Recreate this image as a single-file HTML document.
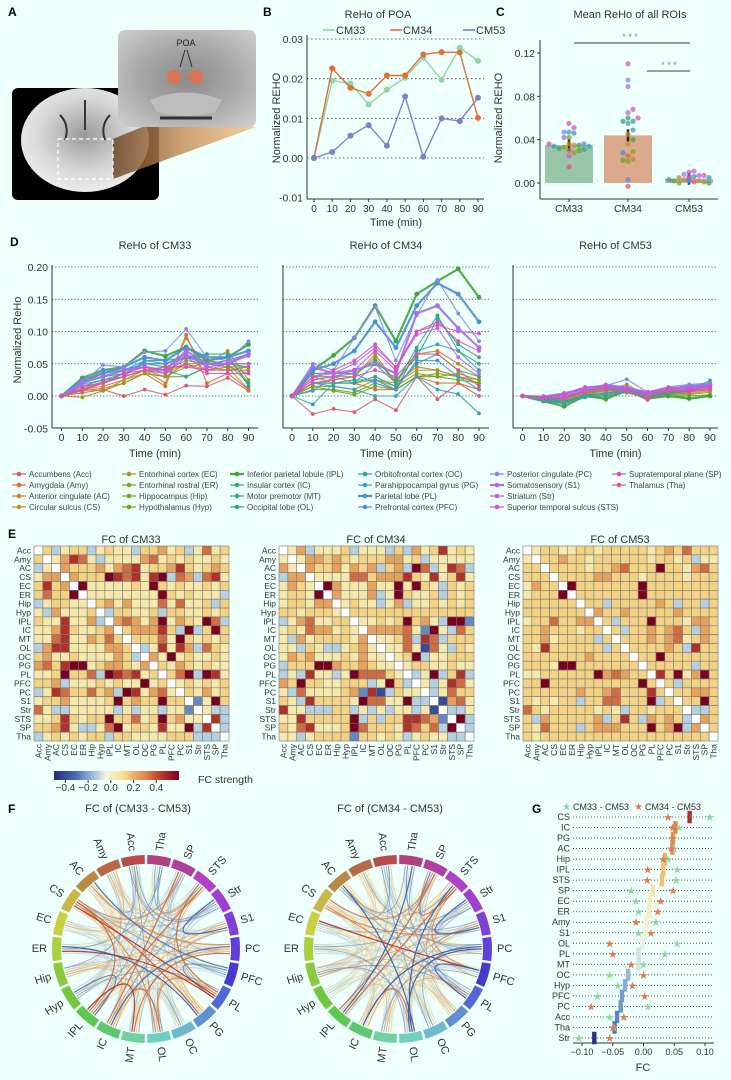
<!DOCTYPE html>
<html><head><meta charset="utf-8">
<style>
html,body{margin:0;padding:0;background:#eefffc;}
svg{display:block;font-family:"Liberation Sans",sans-serif;}
</style></head>
<body>
<svg id="fig" width="731" height="1080" viewBox="0 0 731 1080" xmlns="http://www.w3.org/2000/svg">
<rect width="731" height="1080" fill="#eefffc"/>
<defs>
<linearGradient id="cbar" x1="0" x2="1" y1="0" y2="0">
<stop offset="0" stop-color="#25297a"/><stop offset="0.18" stop-color="#4a6fb5"/><stop offset="0.33" stop-color="#a9c8e0"/><stop offset="0.42" stop-color="#f2f7e4"/><stop offset="0.55" stop-color="#f7e08e"/><stop offset="0.72" stop-color="#e08a4a"/><stop offset="0.88" stop-color="#b0302a"/><stop offset="1" stop-color="#7a0020"/>
</linearGradient>
<linearGradient id="cone" x1="0" x2="1" y1="0" y2="0">
<stop offset="0" stop-color="#6b4525"/><stop offset="0.5" stop-color="#c8925c"/><stop offset="1" stop-color="#f0c890"/>
</linearGradient>
<radialGradient id="brain" cx="0.5" cy="0.45" r="0.6"><stop offset="0" stop-color="#9a9a9a"/><stop offset="0.6" stop-color="#d8d8d8"/><stop offset="1" stop-color="#f0f0f0"/></radialGradient>
<radialGradient id="inset" cx="0.5" cy="0.5" r="0.7"><stop offset="0" stop-color="#8a8a8a"/><stop offset="0.5" stop-color="#a8a8a8"/><stop offset="1" stop-color="#cfcfcf"/></radialGradient>
</defs>
<g>
<text x="8" y="16" font-size="12" font-weight="bold">A</text>
<rect x="12" y="88" width="147" height="112" rx="6" fill="#000"/>
<ellipse cx="85" cy="140" rx="64" ry="52" fill="url(#brain)"/>
<path d="M85 100 L85 130 M60 115 Q70 125 65 140 M110 115 Q100 125 105 140" stroke="#333" stroke-width="2" fill="none"/>
<polygon points="113,139 159,120 256,127 113,179" fill="url(#cone)" opacity="0.85"/>
<rect x="58" y="139" width="55" height="40" fill="none" stroke="#fff" stroke-width="1.2" stroke-dasharray="4,3"/>
<rect x="118" y="30" width="138" height="97" rx="7" fill="url(#inset)"/>
<path d="M150 100 Q186 85 222 100 L215 112 Q186 120 157 112Z" fill="#bdbdbd"/>
<path d="M160 118 L212 118" stroke="#333" stroke-width="3"/>
<circle cx="174" cy="77" r="7" fill="#e07050" opacity="0.9"/>
<circle cx="196" cy="77" r="7" fill="#e07050" opacity="0.9"/>
<text x="186" y="46" font-size="9" text-anchor="middle" fill="#222">POA</text>
<path d="M185 50 L180 67 M187 50 L192 67" stroke="#222" stroke-width="0.9"/>
</g>
<g id="gB"></g>
<g id="gC"></g>
<g id="gD"></g>
<g id="gE"></g>
<g id="gF"></g>
<g id="gG"></g>
</svg>
<script>
const NS="http://www.w3.org/2000/svg";
const rois=["Acc","Amy","AC","CS","EC","ER","Hip","Hyp","IPL","IC","MT","OL","OC","PG","PL","PFC","PC","S1","Str","STS","SP","Tha"];
const roiNames=["Accumbens (Acc)","Amygdala (Amy)","Anterior cingulate (AC)","Circular sulcus (CS)","Entorhinal cortex (EC)","Entorhinal rostral (ER)","Hippocampus (Hip)","Hypothalamus (Hyp)","Inferior parietal lobule (IPL)","Insular cortex (IC)","Motor premotor (MT)","Occipital lobe (OL)","Orbitofrontal cortex (OC)","Parahippocampal gyrus (PG)","Parietal lobe (PL)","Prefrontal cortex (PFC)","Posterior cingulate (PC)","Somatosensory (S1)","Striatum (Str)","Superior temporal sulcus (STS)","Supratemporal plane (SP)","Thalamus (Tha)"];
const roiColors=["#e05a6a","#e0683a","#d0802a","#bf9030","#a99031","#95991f","#86a01f","#6aa320","#40a63b","#3aa66a","#3aa383","#3b9e8f","#3aa0a0","#3e9fb5","#4a8fd0","#5a8ae0","#8a86e8","#a070ee","#c35ee8","#d452d8","#dd50b8","#e05590"];
const times=[0,10,20,30,40,50,60,70,80,90];
const pCM33=[0,.0195,.0188,.0135,.0172,.0202,.0253,.0197,.0278,.0245];
const pCM34=[0,.0226,.0177,.0162,.0208,.0208,.0261,.0267,.0266,.0101];
const pCM53=[0,.0015,.0056,.0083,.0031,.0155,.0003,.0100,.0093,.0152];
const meanLabels=["CM33","CM34","CM53"];
const meanVals=[.035,.044,.004];
const dotsCM33=[.015,.03,.036,.035,.028,.033,.042,.03,.035,.032,.031,.046,.034,.034,.047,.036,.047,.042,.025,.051,.036,.055];
const dotsCM34=[-.003,.025,.045,.036,.022,.029,.02,.021,.04,.06,.057,.057,.055,.049,.028,.003,.095,.089,.065,.068,.06,.11];
const dotsCM53=[.004,.001,.003,.002,.005,.001,.0,.002,.0,.003,.004,.006,.005,.002,.003,.002,.008,.01,.011,.007,.007,.006];
const rehoCM33=[
[0,.005,.01,.0,.01,.002,.016,.015,.028,.008],[0,.008,.012,.02,.035,.015,.095,.02,.035,.01],[0,.01,.008,.025,.04,.02,.09,.04,.045,.01],[0,.01,.015,.025,.035,.03,.05,.04,.045,.035],
[0,.008,.02,.03,.04,.03,.045,.05,.07,.025],[0,-.002,.008,.02,.035,.03,.03,.045,.04,.04],[0,.015,.02,.03,.04,.035,.05,.05,.05,.02],[0,.02,.035,.04,.045,.04,.055,.05,.045,.045],
[0,.028,.04,.045,.07,.062,.076,.055,.06,.08],[0,.02,.03,.035,.05,.045,.06,.055,.05,.05],[0,.015,.025,.035,.045,.04,.03,.045,.05,.045],[0,.02,.03,.04,.05,.05,.06,.065,.065,.015],
[0,.018,.025,.03,.055,.055,.06,.06,.06,.02],[0,.02,.03,.04,.055,.05,.065,.05,.055,.065],[0,.025,.035,.045,.06,.055,.075,.06,.06,.07],[0,.02,.04,.04,.05,.05,.06,.05,.055,.065],
[0,.02,.048,.045,.068,.07,.104,.06,.055,.085],[0,.022,.03,.04,.045,.04,.07,.05,.05,.065],[0,.015,.02,.03,.04,.035,.065,.045,.05,.062],[0,.01,.02,.035,.045,.035,.06,.04,.05,.05],
[0,.01,.02,.035,.04,.04,.05,.035,.035,.035],[0,.012,.022,.03,.04,.045,.045,.04,.04,.045]];
const rehoCM34=[
[0,-.028,-.02,-.025,-.005,-.022,.03,-.005,.02,.0],[0,.02,.02,.02,.01,.01,.03,.02,.02,.01],[0,.025,.03,.03,.065,.02,.065,.07,.05,.03],[0,.03,.02,.02,.025,.02,.04,.04,.03,.025],
[0,.02,.025,.03,.06,.02,.045,.04,.03,.02],[0,.015,.015,.01,.025,.015,.035,.03,.035,.025],[0,.01,.01,.005,.02,.01,.03,.035,.03,.02],[0,.015,.008,.002,.015,.01,.03,.03,.025,.02],
[0,.04,.063,.09,.14,.085,.158,.178,.197,.153],[0,.035,.035,.035,.055,.025,.06,.12,.08,.06],[0,.03,.03,.02,.05,.02,.075,.125,.07,.05],[0,.02,.02,.02,.03,.015,.05,.065,.04,.03],
[0,-.013,.02,.025,.025,.01,.07,.08,.07,.04],[0,.02,.015,.01,.0,.0,.03,.01,.003,-.027],[0,.04,.05,.07,.115,.075,.14,.175,.158,.115],[0,.008,.03,.035,.02,.01,.055,.055,.03,.01],
[0,.05,.04,.09,.138,.055,.125,.18,.128,.085],[0,.045,.035,.04,.05,.035,.128,.14,.105,.075],[0,.03,.035,.05,.075,.045,.095,.105,.06,.035],[0,.025,.03,.04,.07,.04,.1,.11,.1,.097],
[0,.03,.04,.055,.08,.045,.1,.115,.085,.07],[0,.02,.025,.03,.04,.03,.065,.065,.04,.015]];
const rehoCM53=[
[0,-.002,-.004,.006,.01,.007,-.005,.01,.006,.012],[0,-.001,.0,.008,.012,.008,-.006,.008,.01,.015],[0,-.004,-.006,.004,.01,.006,.0,.006,.008,.01],[0,-.003,-.002,.006,.012,.01,.002,.008,.01,.014],
[0,-.005,-.008,.002,.008,.006,.0,.004,.004,.008],[0,-.006,-.01,.0,.006,.005,-.002,.002,.002,.006],[0,-.004,-.008,.004,.008,.018,.0,.004,-.004,.0],[0,-.006,-.012,.002,-.006,.01,-.002,.0,.0,.002],
[0,-.008,-.016,.0,-.004,.008,-.004,.0,-.004,.0],[0,-.006,-.01,.002,.004,.01,.0,.006,.008,.02],[0,-.008,-.012,-.002,.0,.006,-.004,.004,.006,.018],[0,-.006,-.008,.0,.002,.006,-.002,.004,.008,.016],
[0,-.007,-.01,-.002,.004,.008,.0,.008,.01,.024],[0,-.006,-.008,.0,.004,.006,.0,.006,.012,.02],[0,-.004,-.004,.008,.014,.012,.004,.01,.016,.016],[0,-.002,.0,.008,.012,.01,.004,.01,.014,.016],
[0,.0,.002,.01,.016,.026,.006,.014,.018,.02],[0,-.001,.004,.012,.016,.012,.006,.012,.014,.018],[0,-.002,.002,.012,.018,.014,.006,.014,.012,.016],[0,-.003,.004,.014,.016,.012,.004,.012,.01,.014],
[0,-.004,-.002,.008,.012,.008,.0,.01,.008,.012],[0,-.003,-.004,.006,.01,.008,-.006,.008,.006,.01]];
const fcLevels=[-0.4,-0.25,-0.1,0.0,0.08,0.15,0.25,0.35,0.45,0.6];
const fcCM33=["3524552454425564524745","5346874244446745454454","2436555646784556854565","4663655598784892762784","5856394444454954544545","5755934444444495454442","2455443564644474744525","4264445325544525544545","5448446236764694654972","4468544563566685292595","4478446575355574954545","2688444466532484862754","5644544446523649454454","6758994566546354654544","4459557298784535792984","5562444545449453454545","2487557562984674354645","4556444459565595531495","7422444442424424413422","4458545595574595644382","5568422479455484492832","2454545525544445552223"];
const fcCM34=["3462444524442526458454","4346656545556645244444","6436556465625629724872","2663444477566685484584","4654396444644949542545","4554936444624954452545","4554663454424624454545","5545554355555555555555","2467445534454595642991","4547664543666674194275","4264555546344572872555","4425422456434474074254","4656444546443459244555","2555996556544345544544","2428442497775432492582","6595544555249523424874","4274444561802544324755","5428555549774492230674","8442225524242442403224","4485555592525588761392","5478444597555487572932","4424555515545424544223"];
const fcCM53=["3455445545555545657555","4355655455555545545244","5535555455675559554675","5553555566555455554555","4655395555555955555555","4555935555555955555555","5555553552555556525525","5555555365565555565555","4557556635255595554665","5565554553525565675265","5564555525355565674565","5485555552535555652855","5555555655553559555555","5554995555555355555255","4455555596765538594695","5595555555555953525555","5555556556755585355665","5454552557755592535595","7545555545425545553225","5265555562585265652365","5475552566655595692635","5455555555555555555553"];
const gLabels=["CS","IC","PG","AC","Hip","IPL","STS","SP","EC","ER","Amy","S1","OL","PL","MT","OC","Hyp","PFC","PC","Acc","Tha","Str"];
const gMean=[.075,.052,.048,.047,.035,.032,.03,.015,.01,.009,.005,.003,-.002,-.008,-.008,-.025,-.03,-.035,-.037,-.043,-.047,-.08];
const gDiff33=[.108,.058,.048,.05,.04,.055,.053,-.02,-.012,-.008,.02,-.008,.055,.035,.0,-.055,-.042,-.075,.007,-.055,-.048,-.105];
const gDiff34=[.04,.047,.047,.045,.032,.007,.006,.048,.028,.023,-.012,.012,-.055,-.05,-.02,.0,-.018,.002,-.085,-.032,-.05,-.055];

function el(tag,attrs,parent,txt){const e=document.createElementNS(NS,tag);for(const k in attrs)e.setAttribute(k,attrs[k]);if(txt!==undefined)e.textContent=txt;parent.appendChild(e);return e;}
function lin(d0,d1,r0,r1){return v=>r0+(v-d0)/(d1-d0)*(r1-r0);}
function txt(parent,x,y,s,size,extra,name){const t=el("text",Object.assign({x:x,y:y,"font-size":size,fill:"#333"},extra||{}),parent,s);return t;}
const cmStops=[[-0.5,[37,41,122]],[-0.3,[74,111,181]],[-0.12,[169,200,224]],[0,[242,247,228]],[0.12,[247,224,142]],[0.3,[224,138,74]],[0.45,[176,48,42]],[0.6,[122,0,32]]];
function cmap(v){if(v<=cmStops[0][0])return rgb(cmStops[0][1]);for(let i=1;i<cmStops.length;i++){if(v<=cmStops[i][0]){const a=cmStops[i-1],b=cmStops[i];const t=(v-a[0])/(b[0]-a[0]);return rgb(a[1].map((c,k)=>c+(b[1][k]-c)*t));}}return rgb(cmStops[cmStops.length-1][1]);}
function rgb(a){return "rgb("+a.map(Math.round).join(",")+")";}

// Panel B
(function(){
const g=document.getElementById("gB");
txt(g,263,16,"B",12,{"font-weight":"bold",fill:"#000"},"panel-label-b");
txt(g,378,18,"ReHo of POA",11,{"text-anchor":"middle"},"chart-title-b");
const x=lin(0,90,314,478), y=lin(0,0.03,158,39);
[0.03,0.02,0.01,0.0].forEach(v=>{const l=el("line",{x1:307,x2:484,y1:y(v),y2:y(v),stroke:"#333","stroke-width":0.8,"stroke-dasharray":"1.5,2.5"},g);});
[0.03,0.02,0.01,0.0,-0.01].forEach(v=>txt(g,303,y(v)+4,v.toFixed(2),10.5,{"text-anchor":"end"},"y-tick-label"));
el("line",{x1:307,x2:307,y1:35,y2:199,stroke:"#333","stroke-width":1},g);
el("line",{x1:307,x2:484,y1:199,y2:199,stroke:"#333","stroke-width":1},g);
times.forEach(t=>{el("line",{x1:x(t),x2:x(t),y1:199,y2:202,stroke:"#333"},g);txt(g,x(t),212,String(t),10,{"text-anchor":"middle"},"x-tick-label");});
txt(g,396,226,"Time (min)",11,{"text-anchor":"middle"},"x-axis-title-b");
txt(g,0,0,"Normalized REHO",11,{"text-anchor":"middle",transform:"translate(280,118) rotate(-90)"},"y-axis-title-b");
const series=[[pCM33,"#8fd6a0","CM33"],[pCM34,"#e0703a","CM34"],[pCM53,"#8080c8","CM53"]];
series.forEach(([d,c,n])=>{const p=el("polyline",{points:d.map((v,i)=>x(times[i])+","+y(v)).join(" "),fill:"none",stroke:c,"stroke-width":1.4},g);
d.forEach((v,i)=>{const m=el("circle",{cx:x(times[i]),cy:y(v),r:3,fill:c},g);});});
const lx=[338,405,478];
series.forEach(([d,c,n],i)=>{el("line",{x1:lx[i]-15,x2:lx[i]-3,y1:30,y2:30,stroke:c,"stroke-width":1.6},g);txt(g,lx[i]-2,34,n,11,{},"legend-entry");});
})();
// Panel C
(function(){
const g=document.getElementById("gC");
txt(g,496,16,"C",12,{"font-weight":"bold",fill:"#000"},"panel-label-c");
txt(g,630,18,"Mean ReHo of all ROIs",11,{"text-anchor":"middle"},"chart-title-c");
const y=lin(0,0.12,183,53);const cx=[569,628,689];const bw=48;
el("line",{x1:540,x2:540,y1:40,y2:199,stroke:"#333"},g);
el("line",{x1:540,x2:718,y1:199,y2:199,stroke:"#333"},g);
[0,0.04,0.08,0.12].forEach(v=>{el("line",{x1:537,x2:540,y1:y(v),y2:y(v),stroke:"#333"},g);txt(g,535,y(v)+4,v.toFixed(2),10.5,{"text-anchor":"end"},"y-tick-label");});
txt(g,0,0,"Normalized REHO",11,{"text-anchor":"middle",transform:"translate(502,118) rotate(-90)"},"y-axis-title-c");
const bc=["#8fbfa0","#d8a080","#a8a8d8"];
meanVals.forEach((v,i)=>{const r=el("rect",{x:cx[i]-bw/2,y:y(v),width:bw,height:y(0)-y(v),fill:bc[i],opacity:0.9},g);
el("line",{x1:cx[i],x2:cx[i],y1:y(v)-6,y2:y(v)+6,stroke:"#222","stroke-width":2.5},g);
el("line",{x1:cx[i],x2:cx[i],y1:199,y2:202,stroke:"#333"},g);
txt(g,cx[i],212,meanLabels[i],10.5,{"text-anchor":"middle"},"x-tick-label");});
[dotsCM33,dotsCM34,dotsCM53].forEach((arr,gi)=>{const placed=[];arr.forEach((v,i)=>{const py=y(v);let off=0;const cand=[0,5,-5,10,-10,15,-15,20,-20];for(const o of cand){if(placed.every(p=>Math.hypot(p[0]-o,p[1]-py)>=4.6)){off=o;break;}}placed.push([off,py]);
const c=el("circle",{cx:cx[gi]+off,cy:py,r:2.6,fill:roiColors[i],opacity:0.75},g);});});
el("line",{x1:574,x2:690,y1:43,y2:43,stroke:"#666","stroke-width":1.2},g);txt(g,630,40,"* * *",9,{"text-anchor":"middle",fill:"#888"},"significance-1");
el("line",{x1:647,x2:690,y1:71,y2:71,stroke:"#666","stroke-width":1.2},g);txt(g,669,68,"* * *",9,{"text-anchor":"middle",fill:"#888"},"significance-2");
})();
// Panel D
(function(){
const g=document.getElementById("gD");
txt(g,10,246,"D",12,{"font-weight":"bold",fill:"#000"},"panel-label-d");
const panels=[[rehoCM33,52,258,61.5,248.5,"ReHo of CM33"],[rehoCM34,283,489,292,479,"ReHo of CM34"],[rehoCM53,513,718,522.6,710,"ReHo of CM53"]];
const y=lin(0,0.2,396,267);
txt(g,0,0,"Normalized ReHo",11,{"text-anchor":"middle",transform:"translate(21,340) rotate(-90)"},"y-axis-title-d");
const thick=[8,14,17];
panels.forEach(([data,ax0,ax1,x0,x1,title],pi)=>{const x=lin(0,90,x0,x1);
txt(g,(ax0+ax1)/2,249,title,11,{"text-anchor":"middle"},"chart-title-d");
[0.2,0.15,0.1,0.05,0].forEach(v=>el("line",{x1:ax0,x2:ax1,y1:y(v),y2:y(v),stroke:"#333","stroke-width":0.8,"stroke-dasharray":"1.2,2"},g));
el("line",{x1:ax0,x2:ax0,y1:265,y2:428,stroke:"#333"},g);el("line",{x1:ax0,x2:ax1,y1:428,y2:428,stroke:"#333"},g);
if(pi===0)[0.2,0.15,0.1,0.05,0,-0.05].forEach(v=>txt(g,48,y(v)+4,v.toFixed(2),10.5,{"text-anchor":"end"},"y-tick-label"));
times.forEach(t=>{el("line",{x1:x(t),x2:x(t),y1:428,y2:431,stroke:"#333"},g);txt(g,x(t),441,String(t),10.5,{"text-anchor":"middle"},"x-tick-label");});
txt(g,(ax0+ax1)/2,457,"Time (min)",11,{"text-anchor":"middle"},"x-axis-title-d");
data.forEach((row,ri)=>{const w=thick.includes(ri)?2.2:1.1;const p=el("polyline",{points:row.map((v,i)=>x(times[i])+","+y(v)).join(" "),fill:"none",stroke:roiColors[ri],"stroke-width":w,opacity:0.9},g);
row.forEach((v,i)=>{el("circle",{cx:x(times[i]),cy:y(v),r:thick.includes(ri)?2.4:1.9,fill:roiColors[ri]},g);});});});
const colX=[12,122,230,358,490,612];
roiNames.forEach((n,i)=>{const c=Math.floor(i/4),r=i%4;const lx=colX[c],ly=474+r*11;const w=[8,14,17].includes(i)?2.2:1.2;
el("line",{x1:lx,x2:lx+14,y1:ly,y2:ly,stroke:roiColors[i],"stroke-width":w},g);el("circle",{cx:lx+7,cy:ly,r:2.3,fill:roiColors[i]},g);
txt(g,lx+17,ly+3,n,8,{fill:"#444"},"legend-entry");});
})();
// Panel E
const mats=[fcCM33,fcCM34,fcCM53].map(m=>m.map(r=>r.padEnd(22,"5").slice(0,22).split("").map(ch=>fcLevels[+ch])));
(function(){
const g=document.getElementById("gE");
txt(g,8,538,"E",12,{"font-weight":"bold",fill:"#000"},"panel-label-e");
const xs=[34,279,523];const y0=546;const cs=195/22;const titles=["FC of CM33","FC of CM34","FC of CM53"];
mats.forEach((m,mi)=>{const x0=xs[mi];
txt(g,x0+97,543,titles[mi],11,{"text-anchor":"middle"},"heatmap-title");
m.forEach((row,i)=>row.forEach((v,j)=>{const c=el("rect",{x:x0+j*cs,y:y0+i*cs,width:cs,height:cs,fill:i===j?"#ffffff":cmap(v),stroke:"#777","stroke-width":0.6},g);}));
rois.forEach((r,i)=>{txt(g,x0-3,y0+i*cs+cs/2+3,r,8.5,{"text-anchor":"end"},"row-label");
txt(g,0,0,r,8.5,{"text-anchor":"end",transform:"translate("+(x0+i*cs+cs/2+3)+","+(y0+195+3)+") rotate(-90)"},"col-label");});
});
const cb=el("rect",{x:54,y:771,width:125,height:9,fill:"url(#cbar)"},g);
const cx=lin(-0.5,0.6,54,179);
[-0.4,-0.2,0,0.2,0.4].forEach(v=>{el("line",{x1:cx(v),x2:cx(v),y1:780,y2:783,stroke:"#333"},g);txt(g,cx(v),791,(v<0?"\u2212":"")+Math.abs(v).toFixed(1),10,{"text-anchor":"middle"},"colorbar-tick");});
txt(g,198,783,"FC strength",10.5,{},"colorbar-title");
})();
// Panel F
(function(){
const g=document.getElementById("gF");
txt(g,8,813,"F",12,{"font-weight":"bold",fill:"#000"},"panel-label-f");
const ringCol=["#b84a4a","#b86a48","#b88a45","#c8b84a","#c8d040","#a8d040","#8cc840","#70c840","#5cc850","#5cc870","#70d0a0","#70d0c0","#70b8d0","#6090d0","#5068d0","#4838d0","#6040d8","#8040d8","#a040d0","#b040c8","#b040a0","#b04080"];
const centers=[[146,949,"FC of (CM33 - CM53)",0],[398,949,"FC of (CM34 - CM53)",1]];
const n=22,step=360/n,Ro=94,Ri=85,Rc=84;
function pt(cx,cy,r,a){const t=a*Math.PI/180;return [cx+r*Math.cos(t),cy-r*Math.sin(t)];}
centers.forEach(([cx,cy,title,k])=>{
txt(g,cx-8,812,title,11,{"text-anchor":"middle"},"chord-title");
const A=mats[k],B=mats[2];const pairs=[];
for(let i=0;i<n;i++)for(let j=i+1;j<n;j++)pairs.push([i,j,A[i][j]-B[i][j]]);
pairs.sort((a,b)=>Math.abs(a[2])-Math.abs(b[2]));
pairs.forEach(([i,j,d])=>{const ai=90+step/2+step*i+((j*7)%5-2)*1.6,aj=90+step/2+step*j+((i*7)%5-2)*1.6;const p1=pt(cx,cy,Rc,ai),p2=pt(cx,cy,Rc,aj);
const s=d>=0?Math.min(0.5,0.1+d*0.75):Math.max(-0.35,-0.06+d*0.7);const op=Math.min(0.95,0.35+Math.abs(d)*1.5);
const c=el("path",{d:"M"+p1[0]+","+p1[1]+" Q"+cx+","+cy+" "+p2[0]+","+p2[1],fill:"none",stroke:cmap(s),"stroke-width":Math.abs(d)>0.3?1.2:0.9,opacity:op},g);});
for(let i=0;i<n;i++){const a0=90+step*i+0.8,a1=90+step*(i+1)-0.8;const o0=pt(cx,cy,Ro,a0),o1=pt(cx,cy,Ro,a1),i1=pt(cx,cy,Ri,a1),i0=pt(cx,cy,Ri,a0);
const s=el("path",{d:"M"+o0.join(",")+" A"+Ro+","+Ro+" 0 0 0 "+o1.join(",")+" L"+i1.join(",")+" A"+Ri+","+Ri+" 0 0 1 "+i0.join(",")+"Z",fill:ringCol[i]},g);
const am=90+step*(i+0.5);const lp=pt(cx,cy,Ro+5,am);const right=Math.cos(am*Math.PI/180)>0.001;
const rot=right?-am:180-am;txt(g,0,0,rois[i],11,{"text-anchor":right?"start":"end","dominant-baseline":"middle",transform:"translate("+lp[0]+","+lp[1]+") rotate("+rot+")"},"chord-label");}
});
})();
// Panel G
(function(){
const g=document.getElementById("gG");
txt(g,532,813,"G",12,{"font-weight":"bold",fill:"#000"},"panel-label-g");
const x=lin(-0.1,0.1,582,705);const y0=817,dy=(1038-817)/21;
txt(g,562,810,"\u2605",10,{fill:"#8fd6a0"},"legend-star-33");txt(g,573,810,"CM33 - CM53",9,{},"legend-entry");
txt(g,634,810,"\u2605",10,{fill:"#e07a50"},"legend-star-34");txt(g,645,810,"CM34 - CM53",9,{},"legend-entry");
gLabels.forEach((l,i)=>{const yy=y0+i*dy;txt(g,570,yy+3,l,9,{"text-anchor":"end"},"row-label");
el("line",{x1:573,x2:714,y1:yy,y2:yy,stroke:"#333","stroke-width":0.8,"stroke-dasharray":"1,2"},g);});
gLabels.forEach((l,i)=>{const yy=y0+i*dy;const b=el("rect",{x:x(gMean[i])-2.2,y:yy-dy/2-1,width:4.4,height:dy+2,fill:cmap(gMean[i]*6)},g);});
gLabels.forEach((l,i)=>{const yy=y0+i*dy;
txt(g,x(gDiff33[i]),yy+4,"\u2605",11,{"text-anchor":"middle",fill:"#8fd6a0"},"star-cm33");
txt(g,x(gDiff34[i]),yy+4,"\u2605",11,{"text-anchor":"middle",fill:"#e07a50"},"star-cm34");});
el("line",{x1:573,x2:714,y1:1043,y2:1043,stroke:"#333"},g);
[-0.1,-0.05,0,0.05,0.1].forEach(v=>{el("line",{x1:x(v),x2:x(v),y1:1043,y2:1046,stroke:"#333"},g);txt(g,x(v),1055,(v<0?"\u2212":"")+Math.abs(v).toFixed(2),9,{"text-anchor":"middle"},"x-tick-label");});
txt(g,643,1071,"FC",11,{"text-anchor":"middle"},"x-axis-title-g");
})();
</script>
</body></html>
